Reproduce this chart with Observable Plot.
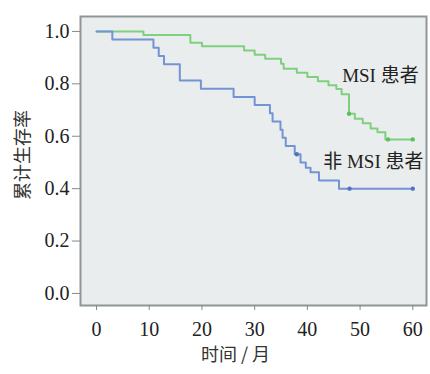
<!DOCTYPE html>
<html>
<head>
<meta charset="utf-8">
<script src="https://cdn.jsdelivr.net/npm/d3@7"></script>
<script src="https://cdn.jsdelivr.net/npm/@observablehq/plot@0.6"></script>
<style>
  body { margin: 0; background: #fff; }
</style>
</head>
<body>
<div id="chart"></div>
<script>
// MSI patients (green) – Kaplan-Meier steps (time in months, cumulative survival)
const msiT = [0, 8.9, 17.8, 20, 28, 30, 32, 35, 35.5, 38, 40, 42, 44, 45.5, 46.5, 47.9, 49, 50.5, 52, 53.3, 54.8, 60];
const msiS = [1.0, 0.986, 0.957, 0.943, 0.927, 0.911, 0.896, 0.877, 0.858, 0.842, 0.826, 0.81, 0.795, 0.78, 0.76, 0.686, 0.667, 0.65, 0.63, 0.615, 0.588, 0.588];
const msiCensorT = [47.9, 55.3, 60];
const msiCensorS = [0.686, 0.588, 0.588];

// non-MSI patients (blue)
const nonT = [0, 3, 10.8, 11.8, 12.8, 15.8, 19.8, 26, 30, 32.9, 33.4, 34.9, 35.3, 35.9, 37.6, 38.7, 39.7, 40.6, 42.2, 46, 60];
const nonS = [1.0, 0.969, 0.938, 0.906, 0.875, 0.813, 0.781, 0.75, 0.719, 0.688, 0.656, 0.625, 0.594, 0.563, 0.531, 0.50, 0.48, 0.463, 0.431, 0.40, 0.40];
const nonCensorT = [38, 48, 60];
const nonCensorS = [0.531, 0.40, 0.40];

const xTicks = [0, 10, 20, 30, 40, 50, 60];
const yTicks = [0, 0.2, 0.4, 0.6, 0.8, 1.0];

const labelText = ["MSI 患者", "非 MSI 患者"];
const labelT = [46.6, 43];
const labelS = [0.832, 0.501];

const xLabel = "时间 / 月";
const yLabel = "累计生存率";

const green = "#7fcf7f";
const blue = "#7394d4";

const msi = msiT.map((t, i) => ({t, s: msiS[i]}));
const non = nonT.map((t, i) => ({t, s: nonS[i]}));
const msiC = msiCensorT.map((t, i) => ({t, s: msiCensorS[i]}));
const nonC = nonCensorT.map((t, i) => ({t, s: nonCensorS[i]}));
const labels = labelText.map((text, i) => ({text, t: labelT[i], s: labelS[i]}));

const cjk = "'Noto Sans CJK SC', sans-serif";
const serif = "'Liberation Serif', 'Times New Roman', serif";

const chart = Plot.plot({
  width: 430,
  height: 374,
  marginLeft: 80,
  marginRight: 4,
  marginTop: 16,
  marginBottom: 69,
  style: {fontFamily: serif, fontSize: "20px", color: "#222", background: "#fff"},
  x: {domain: [-3.04, 62.6]},
  y: {domain: [-0.046, 1.057]},
  marks: [
    Plot.frame({fill: "#eaeded", stroke: null}),
    Plot.line(msi, {x: "t", y: "s", curve: "step-after", stroke: green, strokeWidth: 2}),
    Plot.line(non, {x: "t", y: "s", curve: "step-after", stroke: blue, strokeWidth: 2}),
    Plot.dot(msiC, {x: "t", y: "s", r: 2.2, fill: "#5cbf5c", stroke: null}),
    Plot.dot(nonC, {x: "t", y: "s", r: 2.2, fill: "#4f74c4", stroke: null}),
    Plot.text(labels, {x: "t", y: "s", text: "text", textAnchor: "start", fill: "#222", fontSize: 19, fontFamily: "'Liberation Serif', 'Noto Sans CJK SC', serif"}),
    Plot.frame({stroke: "#8e9696", strokeWidth: 2}),
    Plot.axisX({ticks: xTicks, tickSize: 5, tickPadding: 11, tickFormat: d => String(d), label: null, stroke: "#888", fontSize: 20, fontFamily: serif}),
    Plot.axisY({ticks: yTicks, tickSize: 8, tickPadding: 3, tickFormat: d3.format(".1f"), label: null, stroke: "#888", fontSize: 20, fontFamily: serif}),
    Plot.text([xLabel], {frameAnchor: "bottom", dx: -18, dy: 55, fontSize: 18, fontFamily: cjk, fill: "#333"}),
    Plot.text([yLabel], {frameAnchor: "left", rotate: -90, dx: -57, dy: 39, fontSize: 18, fontFamily: cjk, fill: "#333"})
  ]
});
document.getElementById("chart").appendChild(chart);
</script>
</body>
</html>
